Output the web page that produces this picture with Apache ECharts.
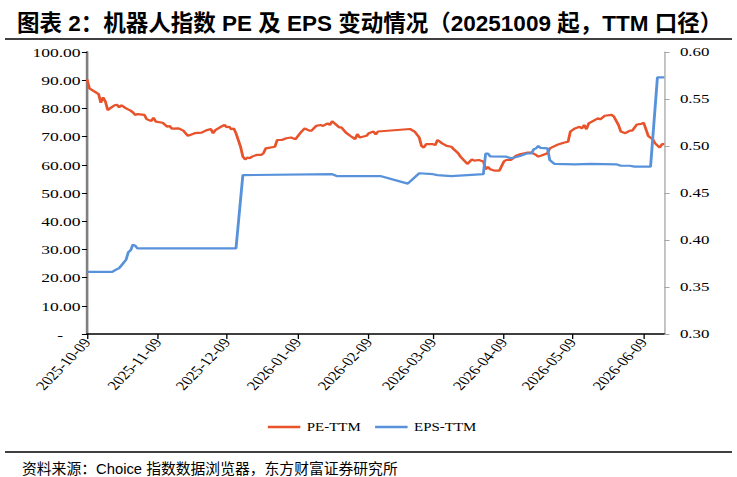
<!DOCTYPE html>
<html>
<head>
<meta charset="utf-8">
<script src="https://cdn.jsdelivr.net/npm/echarts@6/dist/echarts.min.js"></script>
<style>
  html, body { margin: 0; padding: 0; background: #fff; }
  #frame { position: absolute; left: 0; top: 0; width: 737px; height: 477px; }
  /* 原图中图表部分被横向拉伸过，这里用 scaleX 还原 */
  #chart { position: absolute; left: 0; top: 0; width: 567px; height: 477px; transform: scaleX(1.3); transform-origin: 0 0; }
</style>
</head>
<body>
<div id="frame"></div>
<div id="chart"></div>
<script>
// x轴刻度（每月9日）
var tickLabels = ['2025-10-09', '2025-11-09', '2025-12-09', '2026-01-09', '2026-02-09',
    '2026-03-09', '2026-04-09', '2026-05-09', '2026-06-09'];
var axisStart = '2025-10-09';
var axisEnd = '2026-06-18';

// PE-TTM（左轴）
var peDates = ['2025-10-09','2025-10-10','2025-10-13','2025-10-14','2025-10-15','2025-10-16','2025-10-17','2025-10-18',
    '2025-10-19','2025-10-21','2025-10-22','2025-10-23','2025-10-24','2025-10-26','2025-10-28','2025-10-29','2025-10-30',
    '2025-10-31','2025-11-03','2025-11-04','2025-11-06','2025-11-07','2025-11-08','2025-11-11','2025-11-13','2025-11-14',
    '2025-11-15','2025-11-18','2025-11-20','2025-11-22','2025-11-23','2025-11-25','2025-11-28','2025-11-30','2025-12-02',
    '2025-12-03','2025-12-04','2025-12-06','2025-12-08','2025-12-09','2025-12-10','2025-12-11','2025-12-12','2025-12-13',
    '2025-12-15','2025-12-16','2025-12-17','2025-12-18','2025-12-19','2025-12-20','2025-12-22','2025-12-24','2025-12-25',
    '2025-12-26','2025-12-30','2025-12-31','2026-01-02','2026-01-04','2026-01-06','2026-01-08','2026-01-10','2026-01-12',
    '2026-01-14','2026-01-15','2026-01-17','2026-01-19','2026-01-20','2026-01-22','2026-01-23','2026-01-24','2026-01-25',
    '2026-01-27','2026-01-28','2026-01-30','2026-02-01','2026-02-03','2026-02-04','2026-02-05','2026-02-08','2026-02-09',
    '2026-02-11','2026-02-12','2026-02-13','2026-02-27','2026-03-01','2026-03-03','2026-03-04','2026-03-05','2026-03-06',
    '2026-03-09','2026-03-10','2026-03-11','2026-03-13','2026-03-15','2026-03-17','2026-03-18','2026-03-20','2026-03-21',
    '2026-03-24','2026-03-26','2026-03-27','2026-03-29','2026-03-31','2026-04-01','2026-04-02','2026-04-03','2026-04-05',
    '2026-04-07','2026-04-09','2026-04-10','2026-04-12','2026-04-13','2026-04-14','2026-04-16','2026-04-18','2026-04-19',
    '2026-04-21','2026-04-23','2026-04-24','2026-04-26','2026-04-28','2026-04-29','2026-05-02','2026-05-05','2026-05-07',
    '2026-05-08','2026-05-10','2026-05-12','2026-05-13','2026-05-14','2026-05-15','2026-05-16','2026-05-18','2026-05-20',
    '2026-05-21','2026-05-23','2026-05-26','2026-05-27','2026-05-29','2026-05-30','2026-06-01','2026-06-03','2026-06-04',
    '2026-06-06','2026-06-08','2026-06-09','2026-06-11','2026-06-13','2026-06-14','2026-06-16','2026-06-17','2026-06-18'];
var peValues = [90.3,87.1,85.6,85.1,82.0,83.9,82.4,79.4,
    80.0,81.1,81.3,80.4,81.1,80.0,79.2,78.6,77.7,
    78.0,77.7,76.2,75.5,76.7,75.3,74.9,73.5,73.8,
    72.8,72.9,72.1,70.3,70.6,71.2,71.4,72.2,72.7,
    71.2,72.3,73.3,74.1,73.3,73.5,72.6,72.9,71.2,
    66.4,62.9,61.9,62.6,62.3,62.9,63.5,63.5,64.1,
    65.8,66.4,68.8,68.8,69.4,69.7,69.1,71.2,72.9,
    72.1,72.1,73.8,74.1,73.8,74.7,74.1,75.5,74.7,
    73.3,73.3,71.4,70.2,69.1,70.9,69.7,70.3,71.2,
    71.8,70.8,71.8,72.7,71.8,69.7,66.7,66.1,67.3,
    67.3,67.0,68.8,67.6,66.7,66.4,65.6,64.1,62.9,
    60.3,61.9,61.5,61.7,61.2,58.4,59.3,58.4,57.9,
    57.9,61.2,61.7,61.7,62.3,63.1,63.7,64.1,64.3,
    64.3,63.5,62.9,63.5,64.1,65.8,67.0,67.8,68.2,
    71.8,72.9,73.5,72.9,74.1,72.6,74.7,75.6,76.5,
    76.1,77.4,77.7,77.1,74.1,71.8,71.2,72.1,72.1,
    74.3,74.5,74.9,70.2,69.0,67.6,66.1,67.3,67.3];

// EPS-TTM（右轴）
var epsDates = ['2025-10-09','2025-10-20','2025-10-22','2025-10-23','2025-10-24','2025-10-26','2025-10-27','2025-10-28',
    '2025-10-29','2025-10-30','2025-10-31','2025-12-13','2025-12-16','2026-01-24','2026-01-26','2026-02-14','2026-02-26',
    '2026-03-03','2026-03-09','2026-03-11','2026-03-17','2026-03-24','2026-03-31','2026-04-01','2026-04-02','2026-04-03',
    '2026-04-10','2026-04-12','2026-04-14','2026-04-16','2026-04-19','2026-04-21','2026-04-22','2026-04-23','2026-04-24',
    '2026-04-25','2026-04-28','2026-04-29','2026-04-30','2026-05-01','2026-05-10','2026-05-17','2026-05-28','2026-05-30',
    '2026-06-03','2026-06-05','2026-06-12','2026-06-15','2026-06-18'];
var epsValues = [0.366,0.366,0.369,0.370,0.373,0.379,0.387,0.389,
    0.395,0.394,0.391,0.391,0.469,0.470,0.468,0.468,0.460,
    0.471,0.470,0.469,0.468,0.469,0.470,0.492,0.492,0.489,
    0.4886,0.487,0.488,0.4894,0.492,0.492,0.4965,0.4975,0.500,
    0.498,0.4975,0.485,0.483,0.481,0.4805,0.481,0.4805,0.479,
    0.479,0.478,0.478,0.573,0.573];

function toTime(s) {
    var p = s.split('-');
    return new Date(+p[0], +p[1] - 1, +p[2]).getTime();
}
function pad(n) { return n < 10 ? '0' + n : '' + n; }

var tickTimes = tickLabels.map(toTime);
var peData = peDates.map(function (d, i) { return [toTime(d), peValues[i]]; });
var epsData = epsDates.map(function (d, i) { return [toTime(d), epsValues[i]]; });

var serif = '"Liberation Serif", "Times New Roman", serif';
var cjk = '"Liberation Sans", "Noto Sans CJK SC", sans-serif';

// 标题、分隔线、资料来源（未拉伸）
var frame = echarts.init(document.getElementById('frame'), null, {renderer: 'svg'});
frame.setOption({
    title: [
        {
            text: '图表 2：机器人指数 PE 及 EPS 变动情况（20251009 起，TTM 口径）',
            left: 12, top: 7,
            textStyle: {fontSize: 22.5, fontWeight: 'bold', color: '#000', fontFamily: cjk}
        },
        {
            text: '资料来源：Choice 指数数据浏览器，东方财富证券研究所',
            left: 17, top: 457,
            textStyle: {fontSize: 14.8, fontWeight: 'normal', color: '#000', fontFamily: cjk}
        }
    ],
    graphic: [
        {type: 'line', shape: {x1: 5, y1: 39, x2: 732, y2: 39}, style: {stroke: '#000', lineWidth: 1.5}},
        {type: 'line', shape: {x1: 5, y1: 452, x2: 732, y2: 452}, style: {stroke: '#000', lineWidth: 1.5}}
    ]
});

var myChart = echarts.init(document.getElementById('chart'), null, {renderer: 'svg'});
var option = {
    animation: false,
    grid: {left: 67, right: 56, top: 52, bottom: 143},
    legend: {
        data: ['PE-TTM', 'EPS-TTM'],
        left: 206, top: 421, padding: 0,
        icon: 'rect', itemWidth: 25, itemHeight: 2.5, itemGap: 11,
        textStyle: {fontFamily: serif, fontSize: 11.5, color: '#000'}
    },
    xAxis: [
        {
            type: 'value',
            min: toTime(axisStart),
            max: toTime(axisEnd),
            axisLine: {lineStyle: {color: '#000', width: 1.5}},
            axisTick: {show: true, customValues: tickTimes, length: 5, lineStyle: {color: '#000'}},
            axisLabel: {
                customValues: tickTimes,
                rotate: 53,
                margin: 6,
                fontFamily: serif, fontSize: 13, color: '#000',
                formatter: function (v) {
                    var d = new Date(v);
                    return d.getFullYear() + '-' + pad(d.getMonth() + 1) + '-' + pad(d.getDate());
                }
            },
            splitLine: {show: false}
        }
    ],
    yAxis: [
        {
            type: 'value',
            position: 'left',
            min: 0, max: 100, interval: 10,
            axisLine: {show: true, lineStyle: {color: '#808080', width: 2}},
            axisTick: {show: true, length: 4, lineStyle: {color: '#000'}},
            axisLabel: {
                margin: 5,
                fontFamily: serif, fontSize: 13.5, color: '#000',
                formatter: function (v) { return v === 0 ? '-    ' : v.toFixed(2); }
            },
            splitLine: {show: false}
        },
        {
            type: 'value',
            position: 'right',
            min: 0.3, max: 0.6, interval: 0.05,
            axisLine: {show: true, lineStyle: {color: '#a6a6a6', width: 1}},
            axisTick: {show: true, length: 4, lineStyle: {color: '#a6a6a6'}},
            axisLabel: {
                margin: 12,
                fontFamily: serif, fontSize: 13, color: '#000',
                formatter: function (v) { return v.toFixed(2); }
            },
            splitLine: {show: false}
        }
    ],
    series: [
        {
            name: 'PE-TTM',
            type: 'line',
            yAxisIndex: 0,
            data: peData,
            showSymbol: false,
            color: '#E8532B',
            lineStyle: {width: 2.2, color: '#E8532B'}
        },
        {
            name: 'EPS-TTM',
            type: 'line',
            yAxisIndex: 1,
            data: epsData,
            showSymbol: false,
            color: '#5892DA',
            lineStyle: {width: 2.2, color: '#5892DA'}
        }
    ]
};
myChart.setOption(option);
</script>
</body>
</html>
